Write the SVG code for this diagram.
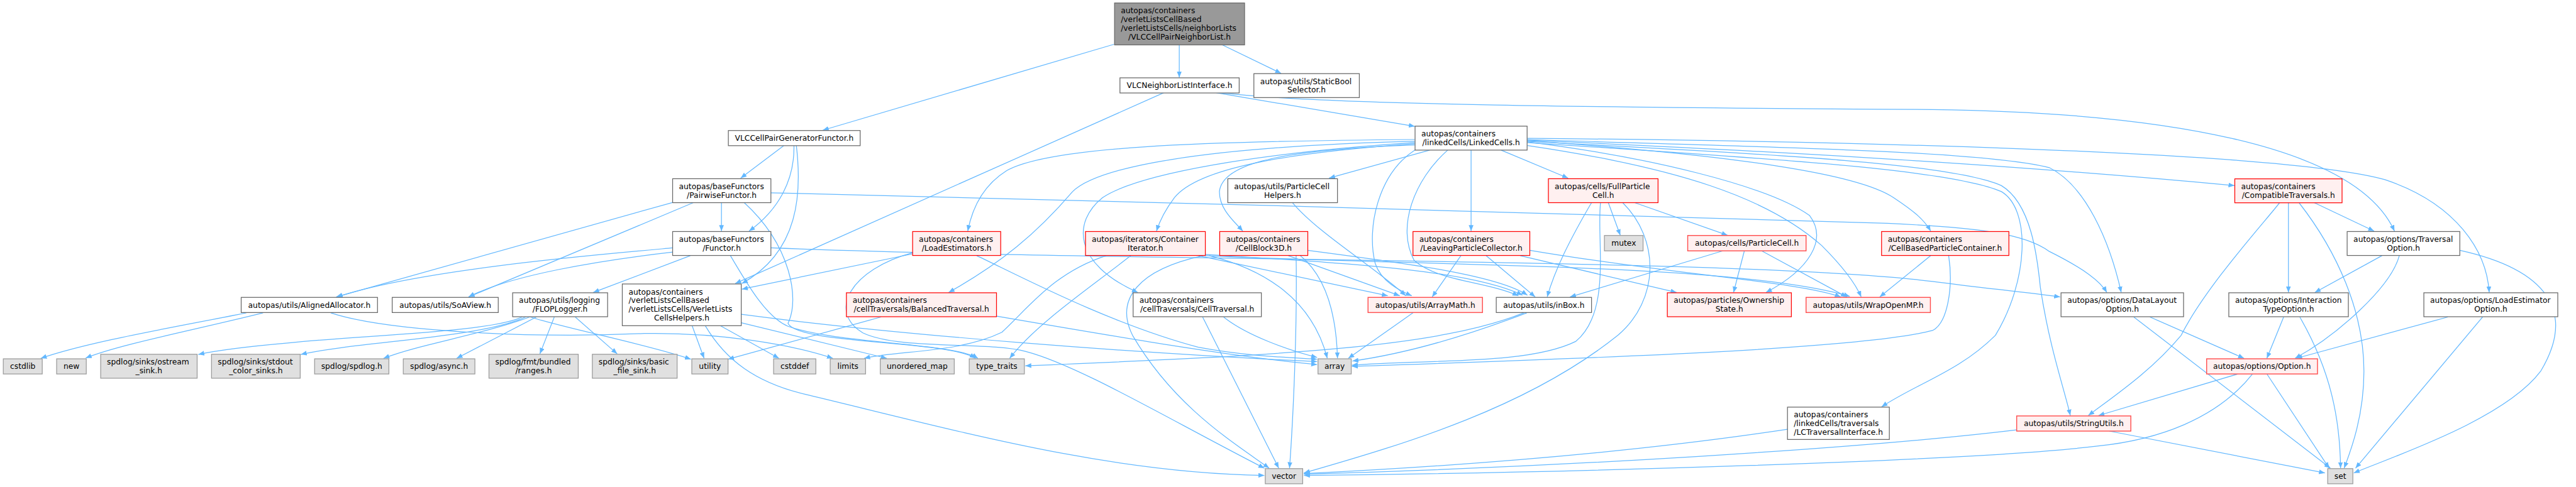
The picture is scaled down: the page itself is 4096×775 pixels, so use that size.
<svg xmlns="http://www.w3.org/2000/svg" width="4096" height="775" viewBox="0 0 4096 775">
<defs>
<marker id="a" viewBox="0 0 10 8" refX="10" refY="4" markerWidth="10" markerHeight="8" markerUnits="userSpaceOnUse" orient="auto"><path d="M0,0L10,4L0,8z" fill="#63b8ff"/></marker>
<style>
.e{fill:none;stroke:#63b8ff;stroke-width:1.3;marker-end:url(#a)}
.n rect{fill:#fff;stroke:#666;stroke-width:1.3}
.r rect{fill:#fff0f0;stroke:#f00;stroke-width:1.3}
.r1 rect{fill:#fff0f0;stroke:#ff4d4d;stroke-width:1.5}
.g rect{fill:#e0e0e0;stroke:#999;stroke-width:1.3}
.c rect{fill:#999;stroke:#666;stroke-width:1.3}
text{font-family:"DejaVu Sans",sans-serif;font-size:12.9px;fill:#000}
.m{text-anchor:middle}
</style>
</defs>
<rect width="4096" height="775" fill="#fff"/>
<g transform="scale(0.9528)">
<g id="edges">
<path class="e" d="M1859,74 L1373,217.5"/>
<path class="e" d="M1968,75 L1968,129.5"/>
<path class="e" d="M2040,75 L2138,122.5"/>
<path class="e" d="M1942,155 L1227,473.5"/>
<path class="e" d="M2030,155 L2361,211"/>
<path class="e" d="M2038,155 C2200,175 2700,180 3225,183 C3600,188 3930,240 3996,386"/>
<path class="e" d="M1308,243.3 L1236,297.5"/>
<path class="e" d="M1325,243.3 C1326,300 1300,350 1250,386"/>
<path class="e" d="M1329,243.3 C1338,320 1335,420 1238,473.5"/>
<path class="e" d="M1204,338.5 L1204,386"/>
<path class="e" d="M1123,338 L561,496"/>
<path class="e" d="M1157,338.5 L782,496"/>
<path class="e" d="M1242,338.5 C1320,410 1335,500 1315,540 C1330,575 1580,568 1628,598.5"/>
<path class="e" d="M1123,414 C1000,425 700,450 562,496"/>
<path class="e" d="M1123,421 C1000,435 850,460 782,496"/>
<path class="e" d="M1152,427 L990,488.5"/>
<path class="e" d="M1286,414 C1900,438 2900,430 3225,470 C3300,480 3380,488 3438,496"/>
<path class="e" d="M1219,427 C1250,480 1280,530 1315,545 C1400,575 1590,572 1632,598.5"/>
<path class="e" d="M1523,424 L1238,483"/>
<path class="e" d="M1523,422 C1420,450 1380,520 1440,556 C1500,585 1650,570 1712,587 C1800,610 1950,700 2110,782"/>
<path class="e" d="M1630,427 C1700,460 1850,540 2000,580 C2080,595 2150,597 2198,600"/>
<path class="e" d="M1846,427 C1760,455 1720,510 1672,555 C1600,590 1500,585 1442,598.5"/>
<path class="e" d="M1887,427 C1820,480 1730,540 1685,598.5"/>
<path class="e" d="M2000,427 L2316,494"/>
<path class="e" d="M2011,425 C2250,440 2450,450 2541,493"/>
<path class="e" d="M2011,427 C2400,445 2900,440 3087,495"/>
<path class="e" d="M2008,427 C1900,450 1860,500 1890,560 C1960,680 2060,740 2118,782"/>
<path class="e" d="M2018,427 C2110,450 2190,500 2215,598.5"/>
<path class="e" d="M2150,427 L2336,494"/>
<path class="e" d="M2170,427 C2210,460 2230,520 2232,598.5"/>
<path class="e" d="M2182,418 C2350,440 2500,460 2549,493"/>
<path class="e" d="M2163,427 C2165,550 2158,700 2152,782"/>
<path class="e" d="M2157,338.5 C2200,390 2300,450 2346,494"/>
<path class="e" d="M2386,250.7 L2218,297.5"/>
<path class="e" d="M2361,233 C2000,236 1750,245 1680,285 C1640,310 1622,350 1615,386"/>
<path class="e" d="M2361,236 C2000,245 1830,280 1790,320 C1730,390 1670,440 1583,488.5"/>
<path class="e" d="M2361,240 C2150,255 2000,280 1960,330 C1945,350 1935,370 1930,386"/>
<path class="e" d="M2361,242 C2150,250 2040,270 2035,320 C2035,350 2060,370 2074,386"/>
<path class="e" d="M2361,238 C2100,255 1900,290 1840,330 C1790,370 1790,440 1899,488.5"/>
<path class="e" d="M2505,250.7 L2617,297.5"/>
<path class="e" d="M2455,250.7 L2455,386"/>
<path class="e" d="M2362,250 C2300,290 2280,380 2295,440 C2305,470 2335,485 2356,494"/>
<path class="e" d="M2416,250.7 C2360,300 2330,380 2360,435 C2400,470 2480,470 2534,494"/>
<path class="e" d="M2549,237 C2750,262 2950,310 3020,360 C3050,400 3020,450 2947,488.5"/>
<path class="e" d="M2549,243 C2800,280 2950,330 3040,410 C3070,440 3095,470 3106,496"/>
<path class="e" d="M2549,235 C2900,260 3100,290 3160,330 C3190,350 3210,365 3222,386"/>
<path class="e" d="M2549,234 C2900,250 3300,270 3729,310"/>
<path class="e" d="M2549,233 C2900,245 3300,250 3420,280 C3480,310 3520,400 3540,488.5"/>
<path class="e" d="M2549,231 C3000,235 3800,250 3980,300 C4100,340 4150,420 4154,488.5"/>
<path class="e" d="M2549,236 C2900,255 3250,270 3340,310 C3390,340 3400,430 3405,480 C3420,580 3445,650 3455,694"/>
<path class="e" d="M2549,238 C2900,262 3250,280 3340,320 C3390,350 3385,470 3330,560 C3270,620 3200,640 3140,679.5"/>
<path class="e" d="M1286,322 C1800,335 2800,360 3150,373 C3300,380 3380,390 3420,420 C3480,450 3505,470 3516,488.5"/>
<path class="e" d="M2684,338.5 L2704,393"/>
<path class="e" d="M2728,338.5 L2883,393"/>
<path class="e" d="M2656,338.5 C2620,400 2595,450 2582,496"/>
<path class="e" d="M2671,338.5 C2664,400 2690,520 2630,570 C2550,610 2380,600 2256,610"/>
<path class="e" d="M2708,338.5 C2770,400 2770,500 2700,560 C2550,680 2350,740 2176,790"/>
<path class="e" d="M2875,419 L2620,496"/>
<path class="e" d="M2911,419 L2893,488.5"/>
<path class="e" d="M2940,419 L3082,496"/>
<path class="e" d="M2438,427 L2390,496"/>
<path class="e" d="M2480,427 L2562,496"/>
<path class="e" d="M2537,427 L2798,488.5"/>
<path class="e" d="M2553,418 C2800,460 3000,470 3072,496"/>
<path class="e" d="M3222,427 L3137,496"/>
<path class="e" d="M3252,427 C3260,480 3250,540 3225,552 C3100,585 2600,600 2256,612"/>
<path class="e" d="M3862,338.5 L3962,386"/>
<path class="e" d="M3819,338.5 L3819,488.5"/>
<path class="e" d="M3804,339 C3780,370 3680,480 3640,560 C3590,620 3530,660 3485,694"/>
<path class="e" d="M3837,339 C3900,420 3945,520 3945,620 C3945,700 3920,760 3912,782"/>
<path class="e" d="M3975,427 L3863,488.5"/>
<path class="e" d="M4004,427 C3990,480 3900,560 3830,598.5"/>
<path class="e" d="M4105,418 C4250,450 4300,520 4240,620 C4180,700 4000,760 3928,790"/>
<path class="e" d="M3811,529.5 L3783,598.5"/>
<path class="e" d="M3838,529.5 C3890,620 3905,700 3906,782"/>
<path class="e" d="M4085,529.5 L3832,598.5"/>
<path class="e" d="M4143,529.5 L3931,782"/>
<path class="e" d="M3588,529.5 L3745,598.5"/>
<path class="e" d="M3561,529.5 L3889,782"/>
<path class="e" d="M3735,624.5 L3502,694"/>
<path class="e" d="M3759,624.5 C3700,700 3600,735 3500,745 C3300,770 2600,790 2176,794"/>
<path class="e" d="M3783,624.5 L3887,782"/>
<path class="e" d="M3520,720 L3880,790"/>
<path class="e" d="M3365,718 C3100,750 2600,780 2176,792"/>
<path class="e" d="M2983,717 C2700,760 2400,780 2176,791"/>
<path class="e" d="M2548,522.5 C2450,560 2350,590 2257,603"/>
<path class="e" d="M2543,522.5 C2400,580 2150,593 1711,611"/>
<path class="e" d="M2358,522.5 L2250,598.5"/>
<path class="e" d="M2007,529.5 L2134,782"/>
<path class="e" d="M2042,529.5 C2080,560 2150,585 2198,597"/>
<path class="e" d="M1470,529.5 L1215,600"/>
<path class="e" d="M1663,528 C1850,560 2050,595 2198,609"/>
<path class="e" d="M1155,544 L1175,598.5"/>
<path class="e" d="M1202,544 L1300,598.5"/>
<path class="e" d="M1237,539 L1480,598.5"/>
<path class="e" d="M1177,544 C1210,600 1260,640 1350,660 C1600,720 1850,790 2110,794"/>
<path class="e" d="M1237,525 C1500,560 1900,590 2198,604"/>
<path class="e" d="M552,522.5 C650,555 900,565 1075,557 C1200,555 1320,575 1390,598.5"/>
<path class="e" d="M885,529.5 C950,550 1080,575 1153,600"/>
<path class="e" d="M411,522.5 C300,545 150,570 68,598.5"/>
<path class="e" d="M439,522.5 C330,550 200,575 143,598"/>
<path class="e" d="M871,529.5 C820,555 600,560 480,573 C400,580 350,588 331,592"/>
<path class="e" d="M877,529.5 C800,565 600,570 502,592"/>
<path class="e" d="M884,529.5 C800,560 700,575 640,598.5"/>
<path class="e" d="M895,529.5 L762,598.5"/>
<path class="e" d="M925,529.5 L901,591"/>
<path class="e" d="M960,529.5 L1030,591"/>
</g>
<g id="node0" class="c"><rect x="1860" y="5" width="217" height="70"/><text x="1870.5" y="22.5">autopas/containers</text><text x="1870.5" y="37">/verletListsCellBased</text><text x="1870.5" y="51.5">/verletListsCells/neighborLists</text><text class="m" x="1968.5" y="66">/VLCCellPairNeighborList.h</text></g>
<g id="node1" class="n"><rect x="1869" y="130" width="199" height="25.3"/><text class="m" x="1968.5" y="147.3">VLCNeighborListInterface.h</text></g>
<g id="node2" class="n"><rect x="2092.5" y="123" width="176" height="40"/><text x="2103" y="140.4">autopas/utils/StaticBool</text><text class="m" x="2180.5" y="154.8">Selector.h</text></g>
<g id="node3" class="n"><rect x="1215.5" y="218" width="220" height="25.3"/><text class="m" x="1325.5" y="235.3">VLCCellPairGeneratorFunctor.h</text></g>
<g id="node4" class="n"><rect x="1122.5" y="298.5" width="164" height="40"/><text x="1133" y="315.9">autopas/baseFunctors</text><text class="m" x="1204.5" y="330.3">/PairwiseFunctor.h</text></g>
<g id="node5" class="n"><rect x="1122.5" y="386.7" width="164" height="40"/><text x="1133" y="404.1">autopas/baseFunctors</text><text class="m" x="1204.5" y="418.5">/Functor.h</text></g>
<g id="node6" class="r"><rect x="1523" y="386.7" width="147" height="40"/><text x="1533.5" y="404.1">autopas/containers</text><text class="m" x="1596.5" y="418.5">/LoadEstimators.h</text></g>
<g id="node7" class="r"><rect x="1811.5" y="386.7" width="200" height="40"/><text x="1822" y="404.1">autopas/iterators/Container</text><text class="m" x="1911.5" y="418.5">Iterator.h</text></g>
<g id="node8" class="r"><rect x="2035.5" y="386.7" width="147" height="40"/><text x="2046" y="404.1">autopas/containers</text><text class="m" x="2109" y="418.5">/CellBlock3D.h</text></g>
<g id="node9" class="n"><rect x="2049" y="298.5" width="183" height="40"/><text x="2059.5" y="315.9">autopas/utils/ParticleCell</text><text class="m" x="2140.5" y="330.3">Helpers.h</text></g>
<g id="node10" class="n"><rect x="2361.5" y="210.7" width="187" height="40"/><text x="2372" y="228.1">autopas/containers</text><text class="m" x="2455" y="242.5">/linkedCells/LinkedCells.h</text></g>
<g id="node11" class="r"><rect x="2584" y="298.5" width="183" height="40"/><text x="2594.5" y="315.9">autopas/cells/FullParticle</text><text class="m" x="2675.5" y="330.3">Cell.h</text></g>
<g id="node12" class="r"><rect x="2358" y="386.7" width="195" height="40"/><text x="2368.5" y="404.1">autopas/containers</text><text class="m" x="2455.5" y="418.5">/LeavingParticleCollector.h</text></g>
<g id="node13" class="g"><rect x="2677.5" y="393.3" width="64.5" height="25.7"/><text class="m" x="2709.75" y="410.8">mutex</text></g>
<g id="node14" class="r1"><rect x="2816.5" y="393.3" width="197.5" height="25.7"/><text class="m" x="2915.25" y="410.8">autopas/cells/ParticleCell.h</text></g>
<g id="node15" class="r"><rect x="3140" y="386.7" width="212.5" height="40"/><text x="3150.5" y="404.1">autopas/containers</text><text class="m" x="3246.25" y="418.5">/CellBasedParticleContainer.h</text></g>
<g id="node16" class="r"><rect x="3729.5" y="298.7" width="179" height="40"/><text x="3740" y="316.1">autopas/containers</text><text class="m" x="3819" y="330.5">/CompatibleTraversals.h</text></g>
<g id="node17" class="n"><rect x="3917" y="386.7" width="188" height="40"/><text x="3927.5" y="404.1">autopas/options/Traversal</text><text class="m" x="4011" y="418.5">Option.h</text></g>
<g id="node18" class="n"><rect x="402.5" y="496.7" width="227.5" height="25.3"/><text class="m" x="516.25" y="514">autopas/utils/AlignedAllocator.h</text></g>
<g id="node19" class="n"><rect x="654.5" y="496.7" width="177" height="25.3"/><text class="m" x="743" y="514">autopas/utils/SoAView.h</text></g>
<g id="node20" class="n"><rect x="855.5" y="489" width="158.5" height="40"/><text x="866" y="506.4">autopas/utils/logging</text><text class="m" x="934.75" y="520.8">/FLOPLogger.h</text></g>
<g id="node21" class="n"><rect x="1038.5" y="474.3" width="198.5" height="69.7"/><text x="1049" y="491.8">autopas/containers</text><text x="1049" y="506.3">/verletListsCellBased</text><text x="1049" y="520.8">/verletListsCells/VerletLists</text><text class="m" x="1137.75" y="535.3">CellsHelpers.h</text></g>
<g id="node22" class="r"><rect x="1412.5" y="489" width="250.5" height="40"/><text x="1423" y="506.4">autopas/containers</text><text class="m" x="1537.75" y="520.8">/cellTraversals/BalancedTraversal.h</text></g>
<g id="node23" class="n"><rect x="1891" y="489" width="214" height="40"/><text x="1901.5" y="506.4">autopas/containers</text><text class="m" x="1998" y="520.8">/cellTraversals/CellTraversal.h</text></g>
<g id="node24" class="r1"><rect x="2283" y="496.7" width="191" height="25.3"/><text class="m" x="2378.5" y="514">autopas/utils/ArrayMath.h</text></g>
<g id="node25" class="n"><rect x="2497" y="496.7" width="159" height="25.3"/><text class="m" x="2576.5" y="514">autopas/utils/inBox.h</text></g>
<g id="node26" class="r"><rect x="2782.5" y="489" width="207" height="40"/><text x="2793" y="506.4">autopas/particles/Ownership</text><text class="m" x="2886" y="520.8">State.h</text></g>
<g id="node27" class="r1"><rect x="3014" y="496.7" width="207.5" height="25.3"/><text class="m" x="3117.75" y="514">autopas/utils/WrapOpenMP.h</text></g>
<g id="node28" class="n"><rect x="3439.5" y="489" width="204.5" height="40"/><text x="3450" y="506.4">autopas/options/DataLayout</text><text class="m" x="3541.75" y="520.8">Option.h</text></g>
<g id="node29" class="n"><rect x="3719.5" y="489" width="199.5" height="40"/><text x="3730" y="506.4">autopas/options/Interaction</text><text class="m" x="3819.25" y="520.8">TypeOption.h</text></g>
<g id="node30" class="n"><rect x="4045" y="489" width="223.5" height="40"/><text x="4055.5" y="506.4">autopas/options/LoadEstimator</text><text class="m" x="4156.75" y="520.8">Option.h</text></g>
<g id="node31" class="r1"><rect x="3682.5" y="599.3" width="185" height="25.3"/><text class="m" x="3775" y="616.6">autopas/options/Option.h</text></g>
<g id="node32" class="r1"><rect x="3365.5" y="694.7" width="190.5" height="25.3"/><text class="m" x="3460.75" y="712">autopas/utils/StringUtils.h</text></g>
<g id="node33" class="n"><rect x="2983" y="680" width="170" height="54"/><text x="2993.5" y="697.2">autopas/containers</text><text x="2993.5" y="711.6">/linkedCells/traversals</text><text class="m" x="3068" y="726">/LCTraversalInterface.h</text></g>
<g id="node34" class="g"><rect x="3884.5" y="782.7" width="42" height="25.3"/><text class="m" x="3905.5" y="800">set</text></g>
<g id="node35" class="g"><rect x="2111.5" y="782.7" width="62.5" height="25.3"/><text class="m" x="2142.75" y="800">vector</text></g>
<g id="node36" class="g"><rect x="2199.5" y="599.3" width="55.5" height="25.3"/><text class="m" x="2227.25" y="616.6">array</text></g>
<g id="node37" class="g"><rect x="5.5" y="599.3" width="65" height="25.3"/><text class="m" x="38" y="616.6">cstdlib</text></g>
<g id="node38" class="g"><rect x="94.5" y="599.3" width="49.5" height="25.3"/><text class="m" x="119.25" y="616.6">new</text></g>
<g id="node39" class="g"><rect x="168" y="591.7" width="161" height="40"/><text x="178.5" y="609.1">spdlog/sinks/ostream</text><text class="m" x="248.5" y="623.5">_sink.h</text></g>
<g id="node40" class="g"><rect x="353" y="591.7" width="148" height="40"/><text x="363.5" y="609.1">spdlog/sinks/stdout</text><text class="m" x="427" y="623.5">_color_sinks.h</text></g>
<g id="node41" class="g"><rect x="525" y="599.3" width="124" height="25.3"/><text class="m" x="587" y="616.6">spdlog/spdlog.h</text></g>
<g id="node42" class="g"><rect x="673" y="599.3" width="119.5" height="25.3"/><text class="m" x="732.75" y="616.6">spdlog/async.h</text></g>
<g id="node43" class="g"><rect x="816" y="591.7" width="149" height="40"/><text x="826.5" y="609.1">spdlog/fmt/bundled</text><text class="m" x="890.5" y="623.5">/ranges.h</text></g>
<g id="node44" class="g"><rect x="988.5" y="591.7" width="141.5" height="40"/><text x="999" y="609.1">spdlog/sinks/basic</text><text class="m" x="1059.25" y="623.5">_file_sink.h</text></g>
<g id="node45" class="g"><rect x="1154.5" y="599.3" width="60.5" height="25.3"/><text class="m" x="1184.75" y="616.6">utility</text></g>
<g id="node46" class="g"><rect x="1291" y="599.3" width="70.5" height="25.3"/><text class="m" x="1326.25" y="616.6">cstddef</text></g>
<g id="node47" class="g"><rect x="1385.5" y="599.3" width="59" height="25.3"/><text class="m" x="1415" y="616.6">limits</text></g>
<g id="node48" class="g"><rect x="1469" y="599.3" width="123.5" height="25.3"/><text class="m" x="1530.75" y="616.6">unordered_map</text></g>
<g id="node49" class="g"><rect x="1617.5" y="599.3" width="92" height="25.3"/><text class="m" x="1663.5" y="616.6">type_traits</text></g>
</g>
</svg>
